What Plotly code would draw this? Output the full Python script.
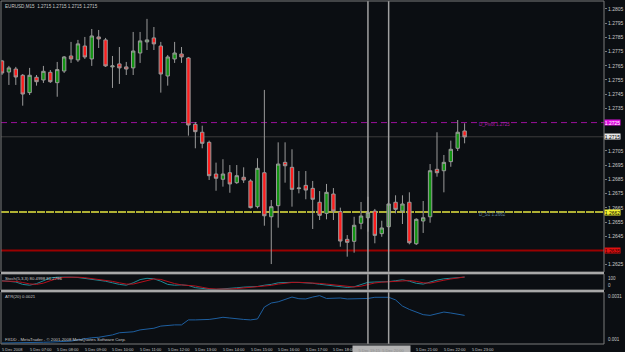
import plotly.graph_objects as go
import pandas as pd

# ---------------- data ----------------
chart_title = "EURUSD,M15  1.2715 1.2715 1.2715 1.2715"
times = pd.date_range("2008-12-05 06:00", periods=68, freq="15min")

opens = [1.27684, 1.27606, 1.27627, 1.27583, 1.27461, 1.27569, 1.27550, 1.27604, 1.27531, 1.27613,
         1.27719, 1.27691, 1.27789, 1.27698, 1.27853, 1.27832, 1.27642, 1.27663, 1.27642, 1.27635,
         1.27740, 1.27818, 1.27846, 1.27789, 1.27578, 1.27698, 1.27733, 1.27705, 1.27238, 1.27182,
         1.27111, 1.26888, 1.26851, 1.26897, 1.26827, 1.26865, 1.26839, 1.26658, 1.26897, 1.26587,
         1.26665, 1.26970, 1.26935, 1.26785, 1.26808, 1.26787, 1.26689, 1.26611, 1.26747, 1.26623,
         1.26428, 1.26414, 1.26541, 1.26580, 1.26627, 1.26468, 1.26517, 1.26689, 1.26627, 1.26689,
         1.26397, 1.26557, 1.26587, 1.26921, 1.26911, 1.26975, 1.27069, 1.27191]
highs = [1.27691, 1.27649, 1.27642, 1.27592, 1.27635, 1.27585, 1.27649, 1.27620, 1.27677, 1.27719,
         1.27818, 1.27832, 1.27853, 1.27909, 1.27902, 1.27846, 1.27719, 1.27782, 1.27677, 1.27888,
         1.27888, 1.27980, 1.27923, 1.27818, 1.27726, 1.27818, 1.27782, 1.27712, 1.27254, 1.27228,
         1.27123, 1.26968, 1.26992, 1.26951, 1.26951, 1.26935, 1.26851, 1.26999, 1.27480, 1.26705,
         1.27111, 1.27111, 1.27062, 1.26909, 1.26909, 1.26839, 1.26768, 1.26818, 1.26789, 1.26651,
         1.26458, 1.26587, 1.26691, 1.26728, 1.26642, 1.26559, 1.26775, 1.26738, 1.26738, 1.26759,
         1.26576, 1.26698, 1.26958, 1.27182, 1.27022, 1.27123, 1.27268, 1.27245]
lows = [1.27585, 1.27515, 1.27515, 1.27369, 1.27444, 1.27510, 1.27529, 1.27529, 1.27432, 1.27599,
        1.27670, 1.27677, 1.27698, 1.27649, 1.27775, 1.27642, 1.27494, 1.27522, 1.27585, 1.27585,
        1.27670, 1.27761, 1.27761, 1.27461, 1.27510, 1.27670, 1.27670, 1.27158, 1.27069, 1.27069,
        1.26846, 1.26770, 1.26799, 1.26756, 1.26818, 1.26825, 1.26646, 1.26646, 1.26524, 1.26254,
        1.26510, 1.26827, 1.26658, 1.26752, 1.26710, 1.26501, 1.26564, 1.26569, 1.26564, 1.26376,
        1.26306, 1.26334, 1.26499, 1.26482, 1.26400, 1.26446, 1.26508, 1.26611, 1.26536, 1.26393,
        1.26388, 1.26473, 1.26545, 1.26869, 1.26759, 1.26939, 1.27050, 1.27104]
closes = [1.27599, 1.27635, 1.27571, 1.27451, 1.27583, 1.27538, 1.27611, 1.27538, 1.27623, 1.27712,
          1.27698, 1.27804, 1.27712, 1.27860, 1.27839, 1.27649, 1.27649, 1.27635, 1.27627, 1.27754,
          1.27825, 1.27832, 1.27804, 1.27592, 1.27712, 1.27740, 1.27712, 1.27233, 1.27186, 1.27104,
          1.26876, 1.26858, 1.26888, 1.26818, 1.26876, 1.26846, 1.26651, 1.26928, 1.26594, 1.26658,
          1.26958, 1.26946, 1.26780, 1.26789, 1.26775, 1.26710, 1.26597, 1.26759, 1.26627, 1.26416,
          1.26407, 1.26527, 1.26592, 1.26618, 1.26456, 1.26508, 1.26677, 1.26639, 1.26677, 1.26404,
          1.26569, 1.26580, 1.26911, 1.26897, 1.26970, 1.27062, 1.27182, 1.27149]

stoch_main = [58, 55, 50, 35, 30, 40, 60, 75, 80, 82, 80, 78, 72, 66, 62, 55, 45, 35, 30, 45,
              65, 73, 70, 55, 35, 30, 32, 28, 15, 8, 5, 4, 6, 8, 14, 18, 20, 22, 30, 35,
              45, 48, 48, 47, 46, 42, 36, 32, 28, 22, 16, 20, 35, 48, 50, 50, 52, 58, 64, 55,
              42, 37, 50, 62, 70, 75, 78, 80.5]
stoch_signal = [56, 56, 54, 47, 38, 35, 43, 58, 72, 79, 81, 80, 77, 72, 67, 61, 54, 45, 37, 37,
                47, 61, 69, 66, 53, 40, 32, 30, 25, 17, 9, 6, 5, 6, 9, 13, 17, 20, 24, 29,
                37, 43, 47, 48, 47, 45, 41, 37, 32, 27, 22, 19, 24, 34, 44, 49, 51, 53, 58, 59,
                54, 45, 43, 50, 61, 69, 74, 81.3]
atr = [0.00100, 0.00100, 0.00101, 0.00101, 0.00102, 0.00102, 0.00103, 0.00104, 0.00105, 0.00106,
       0.00108, 0.00113, 0.00119, 0.00122, 0.00124, 0.00129, 0.00134, 0.00143, 0.00145, 0.00147,
       0.00155, 0.00158, 0.00162, 0.00171, 0.00174, 0.00176, 0.00176, 0.00197, 0.00197, 0.00197,
       0.00199, 0.00203, 0.00208, 0.00205, 0.00201, 0.00199, 0.00197, 0.00201, 0.00251, 0.00268,
       0.00273, 0.00283, 0.00293, 0.00286, 0.00285, 0.00293, 0.00299, 0.00287, 0.00287, 0.00289,
       0.00285, 0.00285, 0.00285, 0.00287, 0.00292, 0.00292, 0.00292, 0.00281, 0.00255, 0.00241,
       0.00230, 0.00219, 0.00216, 0.00222, 0.00230, 0.00226, 0.00222, 0.00216]

# visible price-scale labels (the others are hidden under the level boxes)
price_ticks = [1.2625, 1.2645, 1.2655, 1.2665, 1.2675, 1.2685, 1.2695, 1.2705,
               1.2735, 1.2745, 1.2755, 1.2765, 1.2775, 1.2785, 1.2795, 1.2805]
pivot_level = 1.2725
s1_level = 1.2662
s2_level = 1.2635
last_price = 1.2715
vline_times = ["2008-12-05 19:15", "2008-12-05 20:00"]
# 19:00 and 20:00 labels are hidden under the crosshair time box
time_label_times = ["2008-12-05 %02d:00" % h for h in range(6, 24) if h not in (19, 20)]
time_label_texts = ["5 Dec 2008"] + ["5 Dec %02d:00" % h for h in range(7, 24) if h not in (19, 20)]
stoch_text = "Stoch(5,3,3) 80.4998 81.2796"
atr_text = "ATR(20) 0.0021"
copyright_text = "FXDD - MetaTrader - \u00a9 2001-2008 MetaQuotes Software Corp."

# ---------------- layout constants ----------------
BG = "#0b0e12"
W, H = 625, 352
ML, MR, MT, MB = 1, 17, 1, 8
main_dom = [0.2099, 1.0]
stoch_dom = [0.1574, 0.2041]
atr_dom = [0.0, 0.1516]
x_start = pd.Timestamp("2008-12-05 05:57:50")
x_end = pd.Timestamp("2008-12-06 03:47:50")
FONT = "Liberation Sans"
TXT = "#c8c8c8"

fig = go.Figure()
fig.add_trace(go.Candlestick(
    x=times, open=opens, high=highs, low=lows, close=closes,
    increasing=dict(line=dict(color="#9a9a9a", width=1), fillcolor="#129412"),
    decreasing=dict(line=dict(color="#9a9a9a", width=1), fillcolor="#ff1c1c"),
    whiskerwidth=0, showlegend=False, hoverinfo="skip", xaxis="x", yaxis="y"))
fig.add_trace(go.Scatter(x=times, y=stoch_main, mode="lines",
                         line=dict(color="#1f8a96", width=1), xaxis="x", yaxis="y2",
                         showlegend=False, hoverinfo="skip"))
fig.add_trace(go.Scatter(x=times, y=stoch_signal, mode="lines",
                         line=dict(color="#b4101c", width=1), xaxis="x", yaxis="y2",
                         showlegend=False, hoverinfo="skip"))
fig.add_trace(go.Scatter(x=times, y=atr, mode="lines",
                         line=dict(color="#1e5fa0", width=1), xaxis="x", yaxis="y3",
                         showlegend=False, hoverinfo="skip"))

shapes = []
# horizontal levels
shapes.append(dict(type="line", xref="paper", x0=0, x1=1, yref="y", y0=last_price, y1=last_price,
                   line=dict(color="#3c3c3c", width=1), layer="below"))
shapes.append(dict(type="line", xref="paper", x0=0, x1=1, yref="y", y0=pivot_level, y1=pivot_level,
                   line=dict(color="#99109a", width=1, dash="6px,4px"), layer="below"))
shapes.append(dict(type="line", xref="paper", x0=0, x1=1, yref="y", y0=s1_level, y1=s1_level,
                   line=dict(color="#e6e640", width=1.5, dash="8px,1px"), layer="below"))
shapes.append(dict(type="line", xref="paper", x0=0, x1=1, yref="y", y0=s2_level, y1=s2_level,
                   line=dict(color="#9a0000", width=2), layer="below"))
# vertical lines
for t in vline_times:
    shapes.append(dict(type="line", xref="x", x0=t, x1=t, yref="paper", y0=0, y1=1,
                       line=dict(color="#a0a0a0", width=1.5), layer="above"))
# panel borders
for dom in (main_dom, stoch_dom, atr_dom):
    shapes.append(dict(type="rect", xref="paper", x0=0, x1=1, yref="paper", y0=dom[0], y1=dom[1],
                       line=dict(color="#7a7a7a", width=1), layer="above"))
# separator bands
shapes.append(dict(type="rect", xref="paper", x0=0, x1=1, yref="paper", y0=stoch_dom[1], y1=main_dom[0],
                   line=dict(width=0), fillcolor="#a8a8a8", layer="above"))
shapes.append(dict(type="rect", xref="paper", x0=0, x1=1, yref="paper", y0=atr_dom[1], y1=stoch_dom[0],
                   line=dict(width=0), fillcolor="#a8a8a8", layer="above"))

ann = []
# title & indicator labels
ann.append(dict(text=chart_title, xref="paper", yref="paper", x=0, y=1, xanchor="left", yanchor="top",
                xshift=2, yshift=-1, showarrow=False, font=dict(family=FONT, size=4.6, color=TXT)))
ann.append(dict(text=stoch_text, xref="paper", yref="paper", x=0, y=stoch_dom[1], xanchor="left",
                yanchor="top", xshift=2, yshift=0, showarrow=False, font=dict(family=FONT, size=4.3, color=TXT)))
ann.append(dict(text=atr_text, xref="paper", yref="paper", x=0, y=atr_dom[1], xanchor="left",
                yanchor="top", xshift=2, yshift=0, showarrow=False, font=dict(family=FONT, size=4.3, color=TXT)))
ann.append(dict(text=copyright_text, xref="paper", yref="paper", x=0, y=0, xanchor="left",
                yanchor="bottom", xshift=2, yshift=0, showarrow=False, font=dict(family=FONT, size=4.3, color=TXT)))
# level labels
ann.append(dict(text="D_Pivot %.4f" % pivot_level, xref="x", yref="y", x=times[-1], y=pivot_level,
                xanchor="left", yanchor="middle", xshift=12, yshift=-1.5, showarrow=False,
                font=dict(family=FONT, size=4.5, color="#b020b0")))
ann.append(dict(text="D_S1 %.4f" % s1_level, xref="x", yref="y", x=times[-1], y=s1_level,
                xanchor="left", yanchor="middle", xshift=12, yshift=-2.5, showarrow=False,
                font=dict(family=FONT, size=4.5, color="#5f7f9a")))
# time labels
for t, s in zip(time_label_times, time_label_texts):
    ann.append(dict(text=s, xref="x", yref="paper", x=t, y=0, xanchor="left", yanchor="top",
                    xshift=-2, yshift=-1, showarrow=False, font=dict(family=FONT, size=4, color=TXT)))
# crosshair time box
ann.append(dict(text="5 Dec 19:15  5 Dec 20:00", xref="x", yref="paper", x=vline_times[0], y=0,
                xanchor="left", yanchor="top", xshift=-16, yshift=-1, showarrow=False, width=55, height=6,
                bgcolor="#b2b2b2", font=dict(family=FONT, size=4, color="#8e8e8e")))
# right-side value boxes
for val, bg, fg in ((pivot_level, "#e010e0", "#ffffff"), (last_price, "#e6e6e6", "#000000"),
                    (s1_level, "#f0f030", "#000000"), (s2_level, "#e01010", "#300000")):
    ann.append(dict(text="%.4f" % val, xref="paper", yref="y", x=1, y=val, xanchor="left",
                    yanchor="middle", xshift=0, showarrow=False, width=15, height=5, bgcolor=bg,
                    borderpad=0, font=dict(family=FONT, size=5, color=fg)))
# sub-window scale labels
for txt, dom_y, anch in (("100", stoch_dom[1], "top"), ("0", stoch_dom[0], "bottom"),
                         ("0.0031", atr_dom[1], "top"), ("0.001", atr_dom[0], "bottom")):
    ann.append(dict(text=txt, xref="paper", yref="paper", x=1, y=dom_y, xanchor="left", yanchor=anch,
                    xshift=2, showarrow=False, font=dict(family=FONT, size=4.5, color=TXT)))

fig.update_layout(
    width=W, height=H, margin=dict(l=ML, r=MR, t=MT, b=MB),
    paper_bgcolor=BG, plot_bgcolor=BG, showlegend=False,
    xaxis=dict(range=[x_start, x_end], showgrid=False, zeroline=False, showticklabels=False,
               ticks="", rangeslider=dict(visible=False), anchor="y3", showline=False),
    yaxis=dict(domain=main_dom, range=[1.26198, 1.28106], side="right", showgrid=False,
               zeroline=False, tickvals=price_ticks, ticktext=["%.4f" % v for v in price_ticks],
               ticks="outside", ticklen=2, tickcolor="#7a7a7a",
               tickfont=dict(family=FONT, size=5, color=TXT), anchor="x"),
    yaxis2=dict(domain=stoch_dom, range=[0, 100], showgrid=False, zeroline=False,
                showticklabels=False, ticks="", anchor="x"),
    yaxis3=dict(domain=atr_dom, range=[0.000958, 0.003142], showgrid=False, zeroline=False,
                showticklabels=False, ticks="", anchor="x"),
    shapes=shapes, annotations=ann,
)

fig.write_html("out.html")
